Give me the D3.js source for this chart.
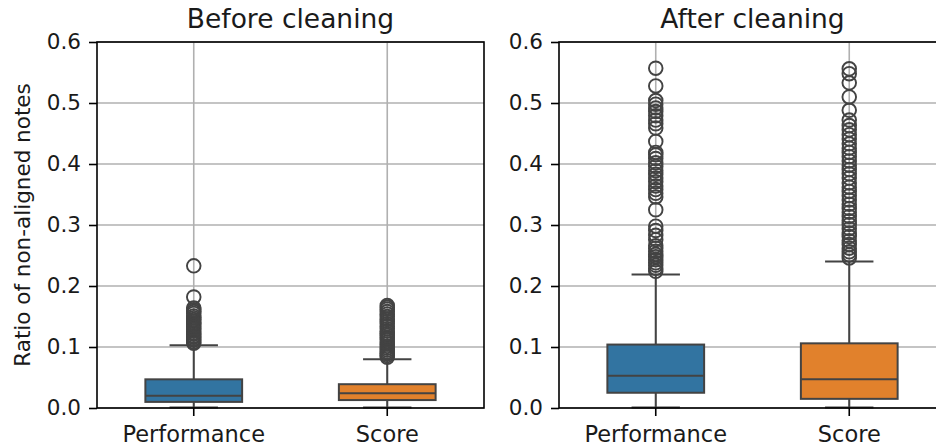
<!DOCTYPE html>
<html lang="en">
<head>
    <meta charset="UTF-8">
    <title>Non-aligned notes boxplots</title>
    <script src="https://cdn.jsdelivr.net/npm/d3@7"></script>
    <style>
        body { margin: 0; background: #fff; }
        text { font-family: "DejaVu Sans", sans-serif; fill: #1a1a1a; }
    </style>
</head>
<body>
    <script>
        // data
        var categories = ["Performance", "Score"];
        var panelTitles = ["Before cleaning", "After cleaning"];
        var yTicks = [0.0, 0.1, 0.2, 0.3, 0.4, 0.5, 0.6];

        // [low whisker, q1, median, q3, high whisker]
        var beforePerf = [0.001, 0.010, 0.020, 0.047, 0.103];
        var beforeScore = [0.001, 0.013, 0.024, 0.039, 0.080];
        var afterPerf = [0.001, 0.025, 0.053, 0.104, 0.219];
        var afterScore = [0.001, 0.015, 0.047, 0.106, 0.240];

        var beforePerfOut = [0.106, 0.108, 0.111, 0.113, 0.116, 0.118, 0.121, 0.123, 0.126, 0.129, 0.131,
            0.134, 0.137, 0.139, 0.142, 0.145, 0.148, 0.151, 0.155, 0.158, 0.161, 0.164, 0.182, 0.233];
        var beforeScoreOut = [0.083, 0.086, 0.089, 0.092, 0.095, 0.098, 0.101, 0.105, 0.108, 0.112, 0.115,
            0.119, 0.122, 0.126, 0.130, 0.134, 0.138, 0.142, 0.146, 0.150, 0.154, 0.158, 0.162, 0.165, 0.168];
        var afterPerfOut = [0.224, 0.229, 0.234, 0.238, 0.243, 0.248, 0.252, 0.257, 0.262, 0.266, 0.276,
            0.283, 0.291, 0.298, 0.325, 0.346, 0.352, 0.358, 0.364, 0.371, 0.377, 0.383, 0.389, 0.396,
            0.402, 0.409, 0.415, 0.419, 0.437, 0.459, 0.466, 0.472, 0.479, 0.486, 0.492, 0.498, 0.504,
            0.528, 0.557];
        var afterScoreOut = [0.246, 0.251, 0.256, 0.262, 0.268, 0.274, 0.281, 0.287, 0.294, 0.301, 0.307,
            0.314, 0.321, 0.327, 0.334, 0.341, 0.348, 0.355, 0.362, 0.369, 0.377, 0.384, 0.391, 0.398,
            0.405, 0.412, 0.419, 0.426, 0.433, 0.441, 0.448, 0.456, 0.463, 0.472, 0.488, 0.51, 0.533,
            0.548, 0.556];

        var panels = [
            { title: panelTitles[0], boxes: [beforePerf, beforeScore], outliers: [beforePerfOut, beforeScoreOut], left: 97 },
            { title: panelTitles[1], boxes: [afterPerf, afterScore], outliers: [afterPerfOut, afterScoreOut], left: 559 }
        ];
        var colors = ["#3274a1", "#e1812c"];
        var lineColor = "#434343";

        var width = 936, height = 448;
        var axW = 387, plotTop = 42, plotBottom = 408;

        var svg = d3.select("body").append("svg").attr("width", width).attr("height", height);

        var y = d3.scaleLinear().domain([0, 0.6]).range([plotBottom, plotTop]);

        panels.forEach(function (p) {
            var x = d3.scaleBand().domain(categories).range([p.left, p.left + axW]).padding(0);
            var g = svg.append("g");
            var boxW = x.bandwidth() * 0.5;

            // grid
            g.selectAll(".hgrid").data(yTicks).enter().append("line")
                .attr("x1", p.left).attr("x2", p.left + axW)
                .attr("y1", function (d) { return y(d); }).attr("y2", function (d) { return y(d); })
                .attr("stroke", "#b0b0b0").attr("stroke-width", 1.6);
            g.selectAll(".vgrid").data(categories).enter().append("line")
                .attr("x1", function (d) { return x(d) + x.bandwidth() / 2; })
                .attr("x2", function (d) { return x(d) + x.bandwidth() / 2; })
                .attr("y1", plotTop).attr("y2", plotBottom)
                .attr("stroke", "#b0b0b0").attr("stroke-width", 1.6);

            // boxes
            categories.forEach(function (c, i) {
                var s = p.boxes[i];
                var cx = x(c) + x.bandwidth() / 2;
                var bg = g.append("g");
                bg.append("line").attr("x1", cx).attr("x2", cx).attr("y1", y(s[0])).attr("y2", y(s[1]))
                    .attr("stroke", lineColor).attr("stroke-width", 2);
                bg.append("line").attr("x1", cx).attr("x2", cx).attr("y1", y(s[3])).attr("y2", y(s[4]))
                    .attr("stroke", lineColor).attr("stroke-width", 2);
                [s[0], s[4]].forEach(function (v) {
                    bg.append("line").attr("x1", cx - boxW / 4).attr("x2", cx + boxW / 4)
                        .attr("y1", y(v)).attr("y2", y(v))
                        .attr("stroke", lineColor).attr("stroke-width", 2);
                });
                bg.append("rect").attr("x", cx - boxW / 2).attr("width", boxW)
                    .attr("y", y(s[3])).attr("height", y(s[1]) - y(s[3]))
                    .attr("fill", colors[i]).attr("stroke", lineColor).attr("stroke-width", 2);
                bg.append("line").attr("x1", cx - boxW / 2).attr("x2", cx + boxW / 2)
                    .attr("y1", y(s[2])).attr("y2", y(s[2]))
                    .attr("stroke", lineColor).attr("stroke-width", 2);
                bg.selectAll("circle").data(p.outliers[i]).enter().append("circle")
                    .attr("cx", cx).attr("cy", function (d) { return y(d); })
                    .attr("r", 6.8).attr("fill", "none")
                    .attr("stroke", lineColor).attr("stroke-width", 1.9);
            });

            // axes
            var yAxis = d3.axisLeft(y).tickValues(yTicks).tickFormat(d3.format(".1f")).tickSize(8).tickPadding(8);
            var ya = g.append("g").attr("transform", "translate(" + p.left + ",0)").call(yAxis);
            var xAxis = d3.axisBottom(x).tickSize(8).tickPadding(10);
            var xa = g.append("g").attr("transform", "translate(0," + plotBottom + ")").call(xAxis);
            ya.attr("font-size", 21.5);
            xa.attr("font-size", 22.5);
            [ya, xa].forEach(function (a) {
                a.attr("font-family", "'DejaVu Sans', sans-serif");
                a.select(".domain").remove();
                a.selectAll(".tick line").attr("stroke", "#000").attr("stroke-width", 1.6);
                a.selectAll(".tick text").attr("fill", "#1a1a1a");
            });

            // frame
            g.append("rect").attr("x", p.left).attr("y", plotTop).attr("width", axW).attr("height", plotBottom - plotTop)
                .attr("fill", "none").attr("stroke", "#000").attr("stroke-width", 1.6);

            g.append("text").attr("x", p.left + axW / 2).attr("y", 28)
                .attr("text-anchor", "middle").attr("font-size", 26.5).text(p.title);
        });

        svg.append("text").attr("transform", "translate(30," + ((plotTop + plotBottom) / 2) + ") rotate(-90)")
            .attr("text-anchor", "middle").attr("font-size", 21.5).text("Ratio of non-aligned notes");
    </script>
</body>
</html>
